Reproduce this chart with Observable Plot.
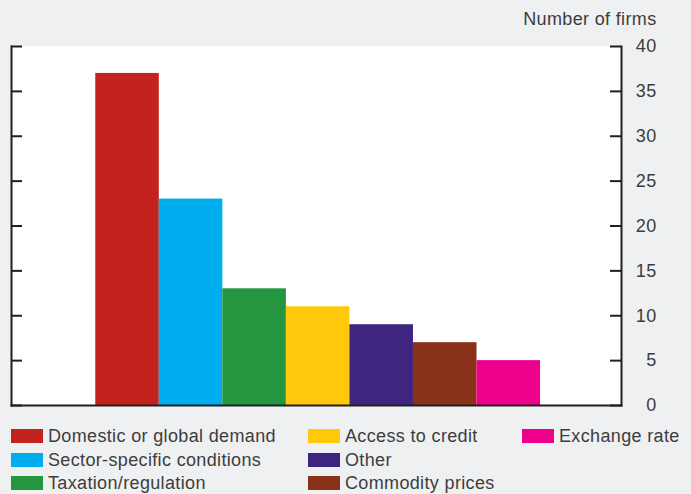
<!DOCTYPE html>
<html><head><meta charset="utf-8">
<script src="https://cdn.jsdelivr.net/npm/d3@7"></script>
<script src="https://cdn.jsdelivr.net/npm/@observablehq/plot@0.6"></script>
<style>
body{margin:0;background:#eff0f2;font-family:"Liberation Sans",Arial,sans-serif;}
#wrap{position:relative;width:691px;height:494px;overflow:hidden;}
.leg{position:absolute;display:flex;align-items:center;font-size:18px;color:#3d3d3d;white-space:nowrap;line-height:20px;letter-spacing:0.35px;}
.sw{width:32px;height:14px;margin-right:5px;flex:none;}
svg text{letter-spacing:0.35px;}
</style></head><body><div id="wrap"></div>
<script>
const categories = ["Domestic or global demand","Sector-specific conditions","Taxation/regulation","Access to credit","Other","Commodity prices","Exchange rate"];
const values = [37,23,13,11,9,7,5];
const colors = ["#c4221d","#00aeef","#23963f","#ffc80a","#3e2680","#893219","#ec008c"];
const yTicks = [0,5,10,15,20,25,30,35,40];
const yTitle = "Number of firms";

const data = categories.map((c,i)=>({cat:c, value:values[i]}));
const ink = "#231f20";
const txt = "#3d3d3d";

const chart = Plot.plot({
  width: 691,
  height: 420,
  marginLeft: 11,
  marginRight: 70,
  marginTop: 46,
  marginBottom: 15,
  style: {background: "none", fontFamily: '"Liberation Sans",Arial,sans-serif', fontSize: "18px", color: txt},
  x: {type: "band", domain: categories, paddingInner: 0, paddingOuter: 1.3, align: 0.51, round: false, axis: null},
  y: {domain: [0,40], axis: null},
  color: {domain: categories, range: colors},
  marks: [
    Plot.frame({fill: "white", stroke: null}),
    Plot.barY(data, {x: "cat", y: "value", fill: "cat"}),
    Plot.frame({anchor: "left", stroke: ink, strokeWidth: 2}),
    Plot.frame({anchor: "right", stroke: ink, strokeWidth: 2}),
    Plot.frame({anchor: "bottom", stroke: ink, strokeWidth: 2}),
    Plot.tickY(yTicks, {y: d=>d, insetRight: 599, stroke: ink, strokeWidth: 2}),
    Plot.tickY(yTicks, {y: d=>d, insetLeft: 599, stroke: ink, strokeWidth: 2}),
    Plot.text(yTicks, {y: d=>d, text: d=>String(d), frameAnchor: "right", dx: 35, textAnchor: "end", lineAnchor: "middle", fill: txt, fontSize: 18}),
    Plot.text([yTitle], {frameAnchor: "top-right", dx: 35, dy: -27, textAnchor: "end", lineAnchor: "middle", fill: txt, fontSize: 18})
  ]
});
const wrap = document.getElementById("wrap");
wrap.appendChild(chart);

const colX = [11, 308, 522];
const rowY = [436, 459.5, 482.5];
categories.forEach((c,i)=>{
  const col = Math.floor(i/3), row = i%3;
  const d = document.createElement("div");
  d.className = "leg";
  d.style.left = colX[col] + "px";
  d.style.top = (rowY[row] - 10) + "px";
  const s = document.createElement("span");
  s.className = "sw";
  s.style.background = colors[i];
  d.appendChild(s);
  d.appendChild(document.createTextNode(c));
  wrap.appendChild(d);
});
</script>
</body></html>
